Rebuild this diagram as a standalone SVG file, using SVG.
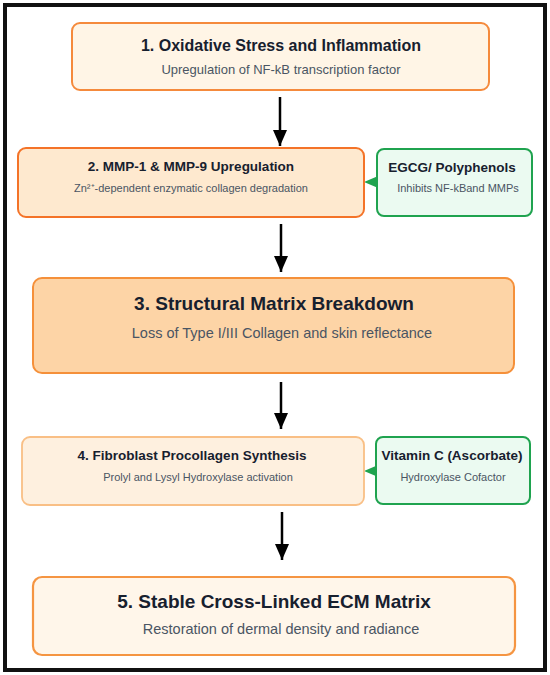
<svg xmlns="http://www.w3.org/2000/svg" width="550" height="675" viewBox="0 0 550 675">
<style>
.t{font-family:"Liberation Sans",Arial,sans-serif;font-weight:bold;fill:#17202e;text-anchor:middle}
.s{font-family:"Liberation Sans",Arial,sans-serif;fill:#4a5563;text-anchor:middle}
.g{fill:#ebfaf1;stroke:#1fa34f;stroke-width:2}
.c{stroke:#000;stroke-width:2.5;fill:none}
</style>
<defs>
<marker id="ah" markerUnits="userSpaceOnUse" markerWidth="16" markerHeight="16" refX="16" refY="7" orient="auto">
<path d="M0,0 L16,7 L0,14 Z" fill="#000"/>
</marker>
</defs>
<rect x="0" y="0" width="550" height="675" fill="#fff"/>
<rect x="5" y="5" width="540" height="665" fill="none" stroke="#111" stroke-width="4"/>
<g id="connectors">
<line class="c" x1="280" y1="97" x2="280" y2="146" marker-end="url(#ah)"/>
<line class="c" x1="281" y1="224" x2="281" y2="272" marker-end="url(#ah)"/>
<line class="c" x1="281" y1="382" x2="281" y2="429" marker-end="url(#ah)"/>
<line class="c" x1="282" y1="512" x2="282" y2="560" marker-end="url(#ah)"/>
<polygon points="364,182 377,176.5 377,187.5" fill="#1fa34f"/>
<polygon points="364,471 377,465.5 377,476.5" fill="#1fa34f"/>
</g>
<g id="node1">
<rect x="72" y="23" width="417" height="67" rx="8" fill="#fff5e6" stroke="#f58a3c" stroke-width="2"/>
<text class="t" x="281" y="51" font-size="16">1. Oxidative Stress and Inflammation</text>
<text class="s" x="281" y="74" font-size="13">Upregulation of NF-kB transcription factor</text>
</g>
<g id="node2">
<rect x="18" y="148" width="346" height="69" rx="8" fill="#fee9cf" stroke="#f47328" stroke-width="2"/>
<text class="t" x="191" y="171" font-size="13.5">2. MMP-1 &amp; MMP-9 Upregulation</text>
<text class="s" x="191" y="192" font-size="11">Zn²⁺-dependent enzymatic collagen degradation</text>
</g>
<g id="egcg">
<rect class="g" x="377" y="149" width="155" height="67" rx="7"/>
<text class="t" x="452" y="172" font-size="13.5">EGCG/ Polyphenols</text>
<text class="s" x="458" y="192" font-size="11">Inhibits NF-kBand MMPs</text>
</g>
<g id="node3">
<rect x="33" y="278" width="481" height="95" rx="9" fill="#fdd4a6" stroke="#f5903a" stroke-width="2"/>
<text class="t" x="274" y="310" font-size="19">3. Structural Matrix Breakdown</text>
<text class="s" x="282" y="338" font-size="14.5">Loss of Type I/III Collagen and skin reflectance</text>
</g>
<g id="node4">
<rect x="22" y="437" width="342" height="68" rx="8" fill="#fef0df" stroke="#f9bf85" stroke-width="1.8"/>
<text class="t" x="192" y="460" font-size="13.5">4. Fibroblast Procollagen Synthesis</text>
<text class="s" x="198" y="481" font-size="11">Prolyl and Lysyl Hydroxylase activation</text>
</g>
<g id="vitc">
<rect class="g" x="376" y="437" width="154" height="67" rx="7"/>
<text class="t" x="452" y="460" font-size="13.5">Vitamin C (Ascorbate)</text>
<text class="s" x="453" y="481" font-size="11">Hydroxylase Cofactor</text>
</g>
<g id="node5">
<rect x="33" y="577" width="482" height="78" rx="9" fill="#fff6ea" stroke="#f59542" stroke-width="2.2"/>
<text class="t" x="274" y="608" font-size="19">5. Stable Cross-Linked ECM Matrix</text>
<text class="s" x="281" y="634" font-size="14.5">Restoration of dermal density and radiance</text>
</g>
</svg>
